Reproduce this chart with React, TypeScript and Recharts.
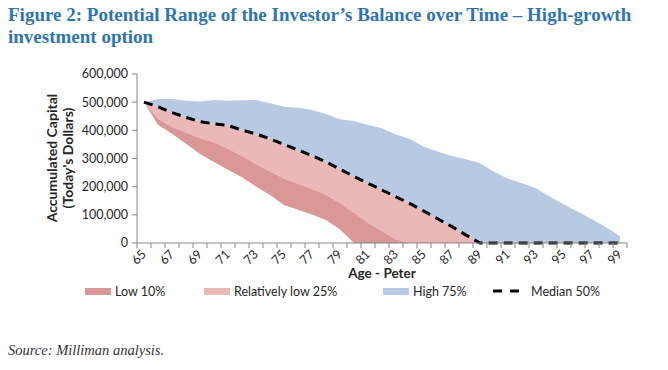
import React from "react";
import { Area, ComposedChart, Line, XAxis, YAxis } from "recharts";

const ages = [
  65, 66, 67, 68, 69, 70, 71, 72, 73, 74, 75, 76, 77, 78, 79, 80, 81, 82, 83,
  84, 85, 86, 87, 88, 89, 90, 91, 92, 93, 94, 95, 96, 97, 98, 99,
];

// percentile balances
const p10 = [
  500000, 420000, 388000, 352000, 316000, 288000, 260000, 233000, 201000,
  170000, 135000, 118000, 101000, 82000, 48000, 0, 0, 0, 0, 0, 0, 0, 0, 0, 0,
  0, 0, 0, 0, 0, 0, 0, 0, 0, 0,
];
const p25 = [
  500000, 440000, 412000, 392000, 372000, 357000, 335000, 309000, 280000,
  254000, 228000, 210000, 192000, 170000, 141000, 107000, 72000, 42000, 12000,
  0, 0, 0, 0, 0, 0, 0, 0, 0, 0, 0, 0, 0, 0, 0, 0,
];
const median = [
  500000, 484000, 463000, 446000, 431000, 423000, 417000, 401000, 387000,
  370000, 350000, 330000, 310000, 288000, 262000, 236000, 212000, 188000,
  164000, 140000, 113000, 85000, 58000, 28000, 0, 0, 0, 0, 0, 0, 0, 0, 0, 0, 0,
];
const p75 = [
  500000, 511000, 511000, 505000, 502000, 508000, 505000, 507000, 508000,
  496000, 484000, 480000, 472000, 458000, 439000, 433000, 419000, 407000,
  385000, 369000, 342000, 324000, 309000, 297000, 283000, 253000, 228000,
  212000, 194000, 164000, 137000, 111000, 84000, 56000, 24000,
];

const yTicks = [0, 100000, 200000, 300000, 400000, 500000, 600000];

const data = ages.map((age, i) => ({
  age,
  low: [p10[i], p25[i]],
  relLow: [p25[i], median[i]],
  high: [median[i], p75[i]],
  median: median[i],
}));

// tick marks sit between ages, labels on odd ages
const xTicks: number[] = [];
for (let i = 0; i <= ages.length; i++) {
  xTicks.push(ages[0] - 0.5 + i);
  if (i < ages.length) xTicks.push(ages[i]);
}

const COLORS = {
  low: "#d99795",
  relLow: "#e9b8b7",
  high: "#b7c9e3",
  axis: "#868686",
  text: "#262626",
};

const FONT = "Lato, 'Liberation Sans', sans-serif";

const legendItems = [
  { label: "Low 10%", color: COLORS.low, dashed: false, left: 85 },
  { label: "Relatively low 25%", color: COLORS.relLow, dashed: false, left: 204 },
  { label: "High 75%", color: COLORS.high, dashed: false, left: 383 },
  { label: "Median 50%", color: "#000", dashed: true, left: 493 },
];

function AgeTick(props: any) {
  const { x, y, payload } = props;
  const v = payload.value as number;
  if (!Number.isInteger(v)) {
    return <line x1={x} x2={x} y1={y - 5} y2={y} stroke={COLORS.axis} />;
  }
  if (v % 2 === 0) return null;
  const tx = x + 3;
  const ty = y + 7;
  return (
    <text
      x={tx}
      y={ty}
      transform={`rotate(-45 ${tx} ${ty})`}
      textAnchor="end"
      fontSize={12.5}
      fontFamily={FONT}
      fill={COLORS.text}
    >
      {v}
    </text>
  );
}

export default function App() {
  return (
    <div
      style={{
        position: "absolute",
        left: 0,
        top: 0,
        width: 668,
        height: 370,
        background: "#fff",
        overflow: "hidden",
      }}
    >
      <div
        style={{
          position: "absolute",
          left: 8,
          top: 4,
          width: 660,
          fontFamily: "'Liberation Serif', serif",
          fontWeight: 700,
          fontSize: 19,
          lineHeight: "22px",
          color: "#2e74b5",
          whiteSpace: "nowrap",
        }}
      >
        Figure 2: Potential Range of the Investor’s Balance over Time – High-growth
        <br />
        investment option
      </div>

      <div style={{ position: "absolute", left: 0, top: 0 }}>
        <ComposedChart
          width={668}
          height={275}
          data={data}
          margin={{ top: 74, right: 41, left: 62, bottom: 0 }}
        >
          <XAxis
            dataKey="age"
            type="number"
            domain={[64.5, 99.5]}
            ticks={xTicks}
            interval={0}
            tick={<AgeTick />}
            tickLine={false}
            tickSize={5}
            tickMargin={0}
            height={32}
            stroke={COLORS.axis}
          />
          <YAxis
            domain={[0, 600000]}
            ticks={yTicks}
            width={75}
            tickSize={5}
            tickMargin={4}
            stroke={COLORS.axis}
            tick={{ fontSize: 12.5, fontFamily: FONT, fill: COLORS.text }}
            tickFormatter={(v: number) => v.toLocaleString("en-US")}
          />
          <Area
            dataKey="high"
            name="High 75%"
            fill={COLORS.high}
            fillOpacity={1}
            stroke="none"
            type="linear"
            isAnimationActive={false}
          />
          <Area
            dataKey="relLow"
            name="Relatively low 25%"
            fill={COLORS.relLow}
            fillOpacity={1}
            stroke="none"
            type="linear"
            isAnimationActive={false}
          />
          <Area
            dataKey="low"
            name="Low 10%"
            fill={COLORS.low}
            fillOpacity={1}
            stroke="none"
            type="linear"
            isAnimationActive={false}
          />
          <Line
            dataKey="median"
            name="Median 50%"
            stroke="#000"
            strokeWidth={3}
            strokeDasharray="9 6"
            dot={false}
            type="linear"
            isAnimationActive={false}
          />
        </ComposedChart>
      </div>

      {/* y axis title */}
      <div
        style={{
          position: "absolute",
          left: 60,
          top: 158,
          transform: "translate(-50%, -50%) rotate(-90deg)",
          fontFamily: FONT,
          fontWeight: 700,
          fontSize: 14,
          lineHeight: "16px",
          textAlign: "center",
          whiteSpace: "nowrap",
          color: COLORS.text,
        }}
      >
        Accumulated Capital
        <br />
        (Today's Dollars)
      </div>

      <div
        style={{
          position: "absolute",
          left: 137,
          width: 490,
          top: 265,
          textAlign: "center",
          fontFamily: FONT,
          fontWeight: 700,
          fontSize: 13.5,
          color: COLORS.text,
        }}
      >
        Age - Peter
      </div>

      {legendItems.map((item) => (
        <div
          key={item.label}
          style={{
            position: "absolute",
            left: item.left,
            top: 283,
            height: 16,
            display: "flex",
            alignItems: "center",
            whiteSpace: "nowrap",
            fontFamily: FONT,
            fontSize: 12.5,
            color: COLORS.text,
          }}
        >
          {item.dashed ? (
            <svg width={26} height={8} style={{ marginRight: 12 }}>
              <line
                x1={0}
                x2={26}
                y1={4}
                y2={4}
                stroke={item.color}
                strokeWidth={3}
                strokeDasharray="9 8"
              />
            </svg>
          ) : (
            <div
              style={{
                width: 26,
                height: 7,
                background: item.color,
                marginRight: 4,
              }}
            />
          )}
          <span>{item.label}</span>
        </div>
      ))}

      <div
        style={{
          position: "absolute",
          left: 8,
          top: 342,
          fontFamily: "'Liberation Serif', serif",
          fontStyle: "italic",
          fontSize: 14.5,
          color: "#333",
        }}
      >
        Source: Milliman analysis.
      </div>
    </div>
  );
}
